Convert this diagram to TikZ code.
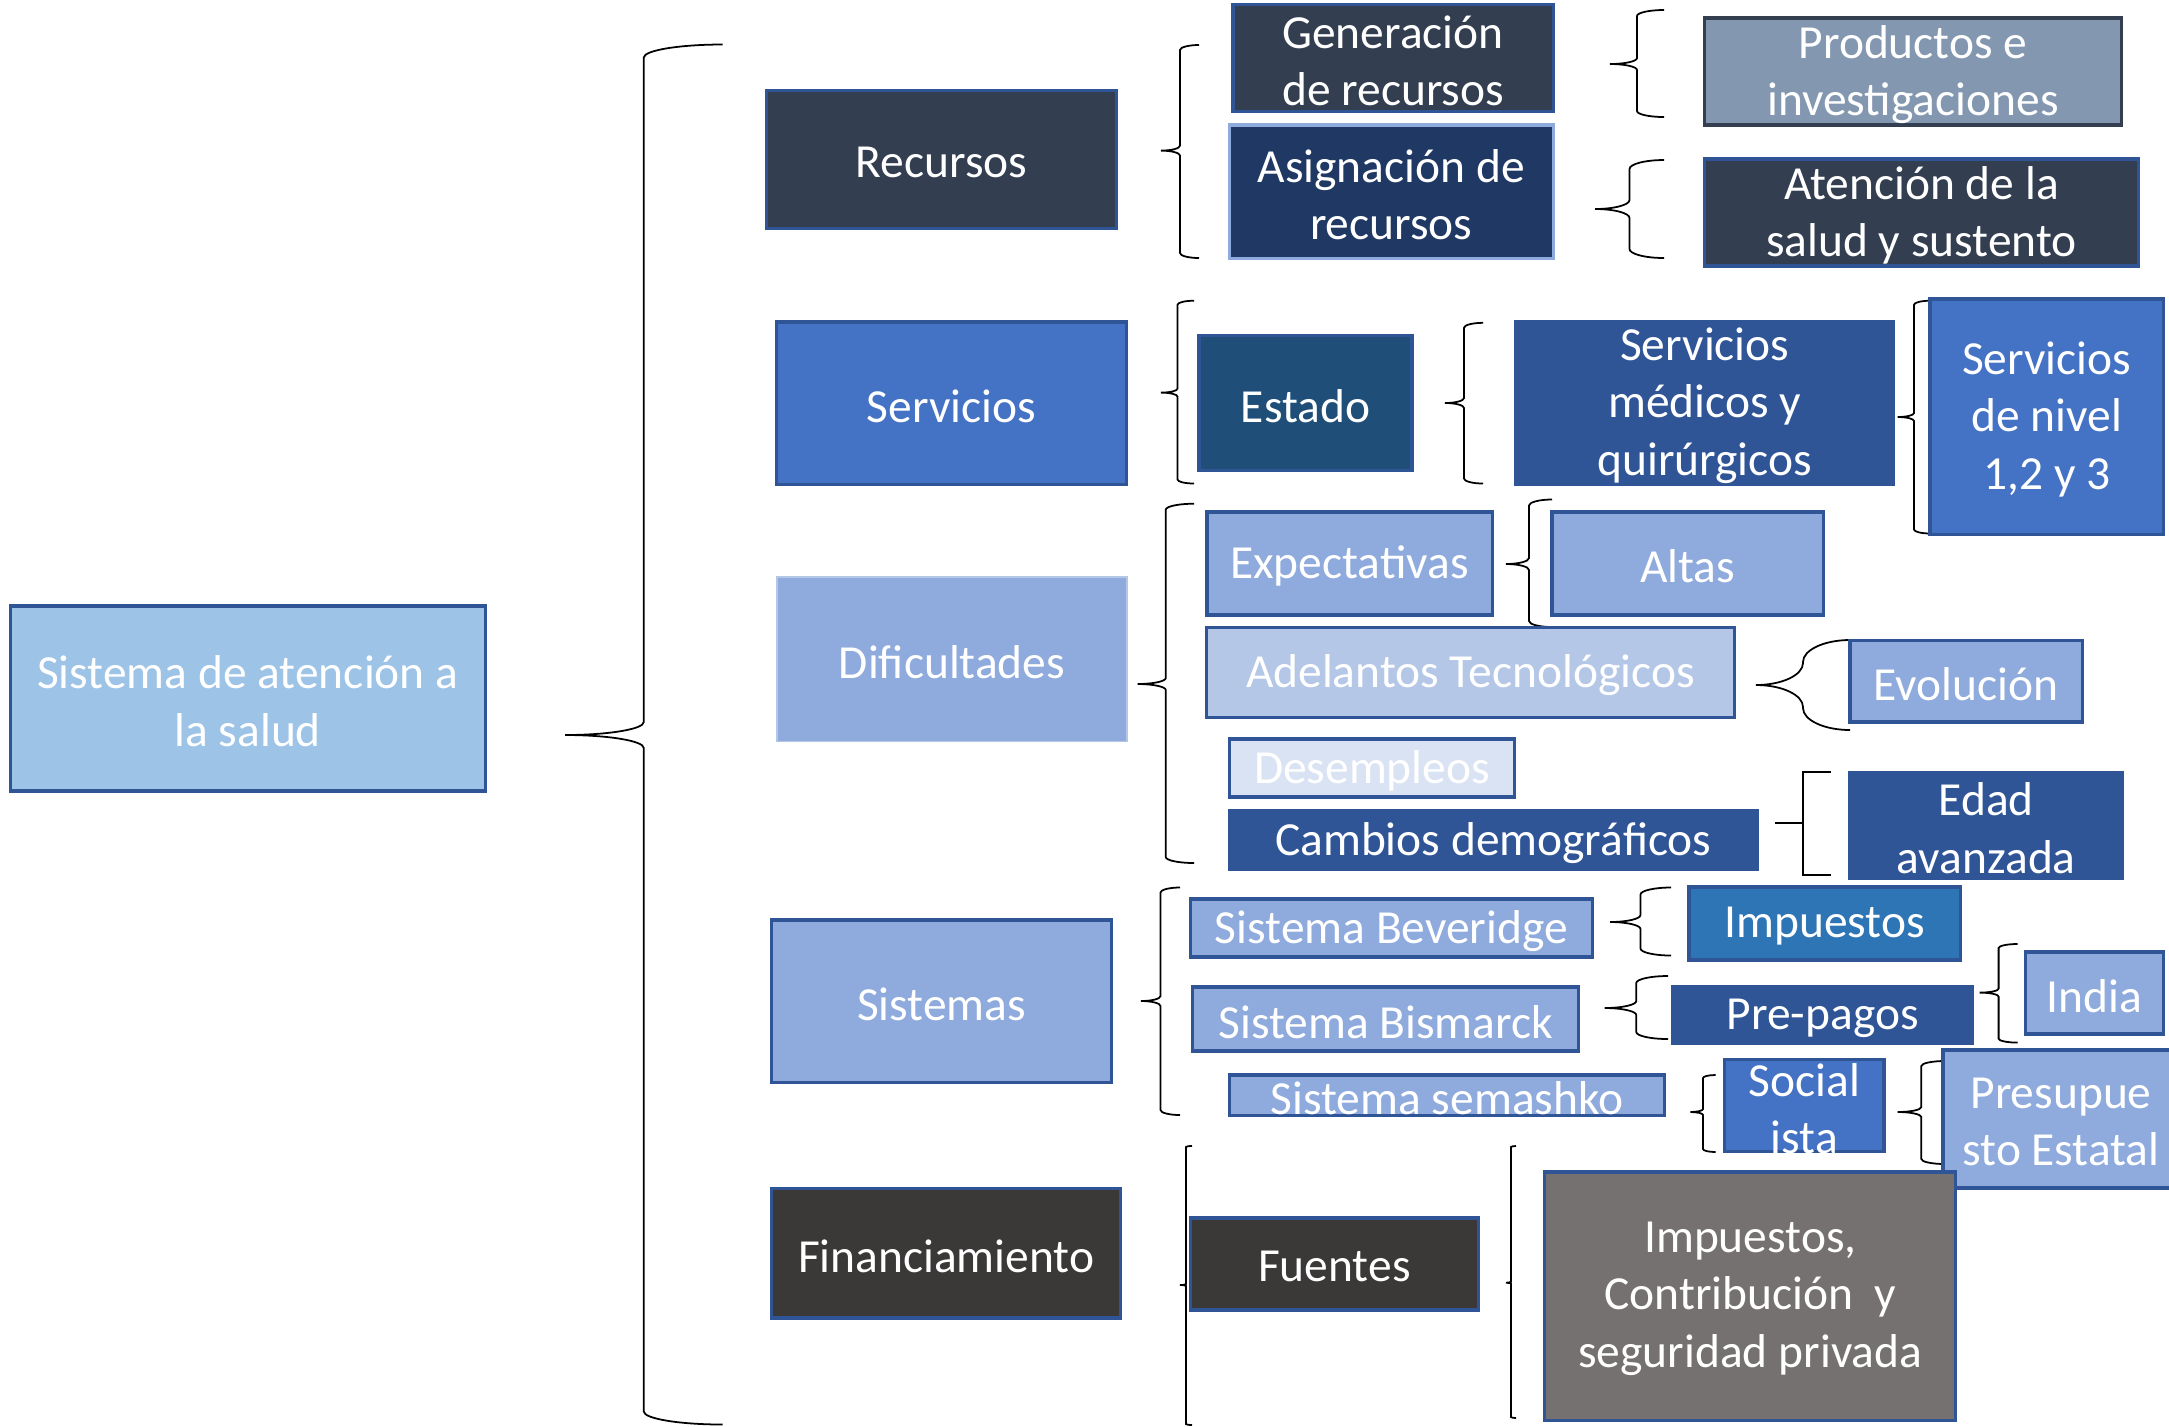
\documentclass[tikz,border=0pt]{standalone}
\usepackage{fontspec}
\setmainfont{Carlito}
\usepackage{tikz}
\usetikzlibrary{shapes.geometric}

\definecolor{borde}{HTML}{2F5597}
\definecolor{pizarra}{HTML}{333F50}
\definecolor{marino}{HTML}{1F3864}
\definecolor{petroleo}{HTML}{1F4E79}
\definecolor{azul}{HTML}{4472C4}
\definecolor{azuloscuro}{HTML}{2F5597}
\definecolor{azulmedio}{HTML}{2E75B6}
\definecolor{azulclaro}{HTML}{8FAADC}
\definecolor{azulpalido}{HTML}{B4C7E7}
\definecolor{azulnube}{HTML}{DAE3F3}
\definecolor{celeste}{HTML}{9DC3E6}
\definecolor{grisazul}{HTML}{8497B0}
\definecolor{grisoscuro}{HTML}{3B3838}
\definecolor{grismedio}{HTML}{767171}

\tikzstyle{box} = [rectangle, draw=borde, line width=0.9pt, inner sep=0pt]
\tikzstyle{txt} = [text=white, align=center, inner sep=0pt, yshift=-0.8pt, font=\fontsize{13.5}{16.3}\selectfont]
\tikzstyle{curly} = [line width=0.5pt, black]

% llave: tip x, tip y, end x, top, bottom, corner
\newcommand{\llave}[6]{%
  \pgfmathsetmacro{\llmid}{(#1+#3)/2}
  \draw[curly] (#3,#4) .. controls ({#3-0.55*(#3-\llmid)},#4) and (\llmid,{#4+0.45*#6}) .. (\llmid,{#4+#6})
    -- (\llmid,{#2-#6}) .. controls (\llmid,{#2-0.45*#6}) and ({\llmid-0.45*(\llmid-#1)},#2) .. (#1,#2)
    .. controls ({\llmid-0.45*(\llmid-#1)},#2) and (\llmid,{#2+0.45*#6}) .. (\llmid,{#2+#6})
    -- (\llmid,{#5-#6}) .. controls (\llmid,{#5-0.45*#6}) and ({#3-0.55*(#3-\llmid)},#5) .. (#3,#5);}

\begin{document}
\begin{tikzpicture}[x=0.01cm, y=-0.01cm]
\useasboundingbox (0,0) rectangle (2169,1426);

% Main topic
\node[box, fill=celeste, minimum width=4.745cm, minimum height=1.85cm, label={[txt]center:{Sistema de atención a\\la salud}}] (salud) at (247.75,698.5) {};
\llave{565}{735}{722.6}{44.5}{1424.5}{13}

% Second column
\node[box, fill=pizarra, minimum width=3.49cm, minimum height=1.38cm, label={[txt]center:{Recursos}}] (rec) at (941.5,159.5) {};
\node[box, fill=azul, minimum width=3.49cm, minimum height=1.625cm, label={[txt]center:{Servicios}}] (serv) at (951.5,403.25) {};
\node[box, draw=azulpalido, line width=0.5pt, fill=azulclaro, minimum width=3.5cm, minimum height=1.645cm, label={[txt]center:{Dificultades}}] (dif) at (952,659.25) {};
\node[box, fill=azulclaro, minimum width=3.39cm, minimum height=1.625cm, label={[txt]center:{Sistemas}}] (sist) at (941.5,1001.25) {};
\node[box, fill=grisoscuro, minimum width=3.485cm, minimum height=1.295cm, label={[txt]center:{Financiamiento}}] (fin) at (946.25,1253.25) {};

% Recursos
\llave{1161}{150.6}{1199}{45}{258}{5}
\node[box, fill=pizarra, minimum width=3.2cm, minimum height=1.07cm, label={[txt]center:{Generación\\de recursos}}] (gen) at (1393,58.1) {};
\node[box, draw=azulclaro, fill=marino, minimum width=3.235cm, minimum height=1.335cm, label={[txt]center:{Asignación de\\recursos}}] (asig) at (1391.25,191.75) {};
\llave{1610}{64}{1664}{10}{117}{6}
\llave{1595}{209}{1664}{160}{258}{9}
\node[box, draw=pizarra, fill=grisazul, minimum width=4.16cm, minimum height=1.07cm, label={[txt]center:{Productos e\\investigaciones}}] (prod) at (1913,71.5) {};
\node[box, fill=pizarra, minimum width=4.33cm, minimum height=1.07cm, label={[txt]center:{Atención de la\\salud y sustento}}] (aten) at (1921.5,212.5) {};

% Servicios
\llave{1161}{392.6}{1194}{300.7}{483.5}{4}
\node[box, fill=petroleo, minimum width=2.13cm, minimum height=1.35cm, label={[txt]center:{Estado}}] (est) at (1305.5,403.1) {};
\llave{1445}{403}{1483}{322.8}{483.5}{5}
\node[box, fill=azuloscuro, minimum width=3.776cm, minimum height=1.63cm, label={[txt]center:{Servicios\\médicos y\\quirúrgicos}}] (med) at (1704.8,402.9) {};
\llave{1897.6}{417}{1930.4}{300.7}{533.5}{4}
\node[box, fill=azul, minimum width=2.335cm, minimum height=2.35cm, label={[txt]center:{Servicios\\de nivel\\1,2 y 3}}] (niv) at (2046.75,416.5) {};

% Dificultades
\llave{1137.5}{684}{1194}{503.7}{863}{6}
\node[box, fill=azulclaro, minimum width=2.85cm, minimum height=1.03cm, label={[txt]center:{Expectativas}}] (expec) at (1349.5,563.5) {};
\llave{1506}{564}{1552}{499.5}{627}{6}
\node[box, fill=azulclaro, minimum width=2.71cm, minimum height=1.03cm, label={[txt]center:{Altas}}] (altas) at (1687.5,563.5) {};
\node[box, fill=azulpalido, minimum width=5.27cm, minimum height=0.9cm, label={[txt]center:{Adelantos Tecnológicos}}] (adel) at (1470.5,672.6) {};
\llave{1756}{685}{1850}{640}{730}{22}
\node[box, fill=azulclaro, minimum width=2.32cm, minimum height=0.815cm, label={[txt]center:{Evolución}}] (evol) at (1966,681.25) {};
\node[box, fill=azulnube, minimum width=2.85cm, minimum height=0.58cm, label={[txt]center:{Desempleos}}] (desem) at (1372,768) {};
\node[box, fill=azuloscuro, minimum width=5.275cm, minimum height=0.58cm, label={[txt]center:{Cambios demográficos}}] (camb) at (1493.25,840) {};
\llave{1775}{823}{1831}{772}{875}{0}
\node[box, fill=azuloscuro, minimum width=2.726cm, minimum height=1.05cm, label={[txt]center:{Edad\\avanzada}}] (edad) at (1986.3,825.5) {};

% Sistemas
\llave{1141}{1001}{1180}{887.5}{1115}{5}
\node[box, fill=azulclaro, minimum width=4.013cm, minimum height=0.58cm, label={[txt]center:{Sistema Beveridge}}] (bev) at (1391.35,928) {};
\llave{1610}{922}{1671}{887.5}{955.5}{7}
\node[box, fill=azulmedio, minimum width=2.71cm, minimum height=0.73cm, label={[txt]center:{Impuestos}}] (imp) at (1824.5,923.5) {};
\node[box, fill=azulclaro, minimum width=3.856cm, minimum height=0.64cm, label={[txt]center:{Sistema Bismarck}}] (bis) at (1385.8,1019) {};
\llave{1604.5}{1008}{1668}{976}{1039}{7}
\node[box, fill=azuloscuro, minimum width=3.0cm, minimum height=0.565cm, label={[txt]center:{Pre-pagos}}] (prep) at (1822.65,1015.25) {};
\llave{1979.5}{992.6}{2017.7}{944}{1042.6}{4}
\node[box, fill=azulclaro, minimum width=1.377cm, minimum height=0.82cm, label={[txt]center:{India}}] (india) at (2094.65,993) {};
\node[box, fill=azulclaro, minimum width=4.35cm, minimum height=0.407cm, label={[txt]center:{Sistema semashko}}] (sem) at (1447,1095.35) {};
\llave{1690.4}{1112}{1715.6}{1075}{1152}{3}
\node[box, fill=azul, minimum width=1.595cm, minimum height=0.917cm, label={[txt]center:{Social\\ista}}] (soc) at (1804.25,1105.55) {};
\llave{1897.6}{1112}{1945}{1061}{1164}{5}
\node[box, fill=azulclaro, minimum width=2.36cm, minimum height=1.38cm, label={[txt]center:{Presupue\\sto Estatal}}] (pres) at (2061,1119) {};

% Financiamiento
\llave{1180}{1285}{1192}{1146}{1425}{1}
\node[box, fill=grisoscuro, minimum width=2.873cm, minimum height=0.92cm, label={[txt]center:{Fuentes}}] (fuen) at (1334.35,1264) {};
\llave{1506}{1282.7}{1516}{1146}{1418}{1}
\node[box, fill=grismedio, minimum width=4.106cm, minimum height=2.48cm, label={[txt]center:{Impuestos,\\Contribución\ \ y\\seguridad privada}}] (impc) at (1750.3,1296) {};

\end{tikzpicture}
\end{document}
